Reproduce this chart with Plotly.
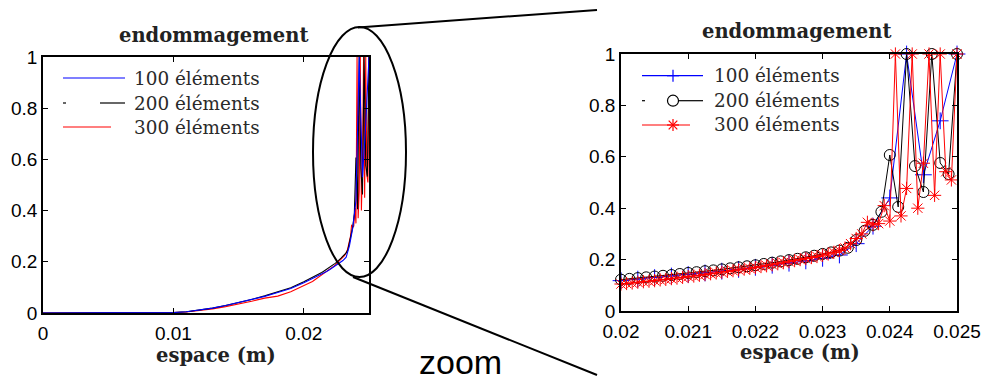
import numpy as np
import plotly.graph_objects as go

# ---------------- data ----------------
# coarse sampling of the smooth part (x < 0.02), shared node positions
x_coarse = [0.000, 0.001, 0.002, 0.003, 0.004, 0.005, 0.006, 0.007, 0.008, 0.009,
            0.010, 0.011, 0.012, 0.013, 0.014, 0.015, 0.016, 0.017, 0.018, 0.019]
y100_coarse = [0, 0, 0, 0, 0, 0, 0, 0, 0.0005, 0.001,
               0.002, 0.005, 0.011, 0.019, 0.029, 0.040, 0.052, 0.065, 0.080, 0.096]
y200_coarse = [0, 0, 0, 0, 0, 0, 0, 0, 0.0005, 0.001,
               0.002, 0.005, 0.011, 0.019, 0.029, 0.040, 0.053, 0.067, 0.082, 0.099]
y300_coarse = [0, 0, 0, 0, 0, 0, 0, 0, 0.0004, 0.001,
               0.002, 0.004, 0.009, 0.016, 0.025, 0.035, 0.046, 0.058, 0.066, 0.083]

# fine part, nodes of each mesh between 0.02 and 0.025
x100_fine = np.linspace(0.02, 0.025, 21)
y100_fine = [0.118, 0.124, 0.130, 0.136, 0.142, 0.148, 0.155, 0.162, 0.170, 0.178,
             0.186, 0.195, 0.205, 0.218, 0.262, 0.330, 0.440, 1.000, 0.530, 0.740,
             1.000]

x200_fine = np.linspace(0.02, 0.025, 41)
y200_fine = [0.122, 0.125, 0.128, 0.131, 0.134, 0.137, 0.140, 0.144, 0.148, 0.151,
             0.155, 0.158, 0.162, 0.166, 0.170, 0.174, 0.178, 0.183, 0.188, 0.193,
             0.198, 0.203, 0.209, 0.215, 0.222, 0.228, 0.235, 0.246, 0.276, 0.312,
             0.335, 0.386, 0.607, 0.405, 1.000, 0.564, 0.463, 1.000, 0.576, 0.533,
             1.000]

x300_fine = np.linspace(0.02, 0.025, 61)
y300_fine = [0.105, 0.107, 0.109, 0.112, 0.114, 0.116, 0.118, 0.121, 0.123, 0.126,
             0.128, 0.131, 0.134, 0.136, 0.139, 0.142, 0.145, 0.148, 0.151, 0.154,
             0.157, 0.160, 0.163, 0.166, 0.169, 0.173, 0.176, 0.180, 0.184, 0.188,
             0.192, 0.196, 0.200, 0.204, 0.208, 0.212, 0.217, 0.222, 0.228, 0.235,
             0.245, 0.262, 0.282, 0.300, 0.345, 0.335, 0.340, 0.410, 0.350, 1.000,
             0.370, 0.477, 1.000, 0.400, 0.575, 1.000, 0.450, 1.000, 0.542, 0.510,
             1.000]

series_names = ["100 éléments", "200 éléments", "300 éléments"]
series_colors = ["#0000ff", "#000000", "#ff0000"]
series_symbols = ["cross-thin-open", "circle-open", "asterisk-open"]

left_xticks = [0, 0.01, 0.02]
left_xlabels = ["0", "0.01", "0.02"]
right_xticks = [0.020, 0.021, 0.022, 0.023, 0.024, 0.025]
right_xlabels = ["0.02", "0.021", "0.022", "0.023", "0.024", "0.025"]
yticks = [0, 0.2, 0.4, 0.6, 0.8, 1]
ylabels = ["0", "0.2", "0.4", "0.6", "0.8", "1"]

title_text = "endommagement"
xlabel_text = "espace (m)"
zoom_text = "zoom"

# ---------------- figure ----------------
W, H = 985, 383
def fx(p):
    return p / W
def fy(p):
    return 1 - p / H

xs_full = [np.concatenate([x_coarse, x100_fine]),
           np.concatenate([x_coarse, x200_fine]),
           np.concatenate([x_coarse, x300_fine])]
ys_full = [y100_coarse + y100_fine, y200_coarse + y200_fine, y300_coarse + y300_fine]
xs_fine = [x100_fine, x200_fine, x300_fine]
ys_fine = [y100_fine, y200_fine, y300_fine]

fig = go.Figure()

# left panel: full domain, lines only (blue drawn last as it dominates the smooth part)
for i in [2, 1, 0]:
    fig.add_trace(go.Scatter(x=xs_full[i], y=ys_full[i], mode="lines",
                             line=dict(color=series_colors[i], width=1.1),
                             name=series_names[i], xaxis="x", yaxis="y",
                             showlegend=False))

# right panel: zoom, lines with markers
msize = [12, 11, 11]
for i in [0, 1, 2]:
    fig.add_trace(go.Scatter(x=xs_fine[i], y=ys_fine[i], mode="lines+markers",
                             line=dict(color=series_colors[i], width=1),
                             marker=dict(symbol=series_symbols[i], size=msize[i],
                                         color=series_colors[i],
                                         line=dict(color=series_colors[i], width=1)),
                             cliponaxis=False,
                             name=series_names[i], xaxis="x2", yaxis="y2",
                             showlegend=False))

tickfont = dict(family="Liberation Sans, Arial, sans-serif", size=19, color="black")
axis_common = dict(showline=True, mirror="ticks", linecolor="black", linewidth=1.6,
                   ticks="inside", ticklen=5, tickwidth=1, tickcolor="black",
                   tickfont=tickfont, showgrid=False, zeroline=False,
                   automargin=False)

fig.update_layout(
    width=W, height=H,
    margin=dict(l=0, r=0, t=0, b=0, pad=0, autoexpand=False),
    paper_bgcolor="white", plot_bgcolor="white",
    showlegend=False,
    xaxis=dict(domain=[fx(43), fx(369)], range=[0, 0.025], anchor="y",
               tickvals=left_xticks, ticktext=left_xlabels,
               ticklabelstandoff=2, **axis_common),
    yaxis=dict(domain=[fy(313), fy(57)], range=[0, 1], anchor="x",
               tickvals=yticks, ticktext=ylabels, **axis_common),
    xaxis2=dict(domain=[fx(621), fx(957)], range=[0.02, 0.025], anchor="y2",
                tickvals=right_xticks, ticktext=right_xlabels,
                ticklabelstandoff=2, **axis_common),
    yaxis2=dict(domain=[fy(311), fy(54)], range=[0, 1], anchor="x2",
                tickvals=yticks, ticktext=ylabels, **axis_common),
)

serif_b = dict(family="DejaVu Serif, serif", size=19.5, color="#222222")
serif = dict(family="DejaVu Serif, serif", size=18.4, color="#2a2a2a")

annotations = []
# titles and x labels
for (xc, yc, txt) in [(213, 35, title_text), (796, 32, title_text),
                      (216, 355, xlabel_text), (800, 352, xlabel_text)]:
    annotations.append(dict(x=fx(xc), y=fy(yc), xref="paper", yref="paper",
                            text="<b>%s</b>" % txt, showarrow=False, font=serif_b,
                            xanchor="center", yanchor="middle"))
annotations.append(dict(x=fx(460), y=fy(362), xref="paper", yref="paper",
                        text=zoom_text, showarrow=False,
                        font=dict(family="Liberation Sans, Arial, sans-serif",
                                  size=34, color="black"),
                        xanchor="center", yanchor="middle"))

# legends (manual, MATLAB style)
left_rows = [78, 103, 127]
right_rows = [75.7, 100.7, 125]
for i in range(3):
    annotations.append(dict(x=fx(132), y=fy(left_rows[i]), xref="paper", yref="paper",
                            text=series_names[i], showarrow=False, font=serif,
                            xanchor="left", yanchor="middle"))
    annotations.append(dict(x=fx(712), y=fy(right_rows[i]), xref="paper", yref="paper",
                            text=series_names[i], showarrow=False, font=serif,
                            xanchor="left", yanchor="middle"))

shapes = []
def seg(x0, y0, x1, y1, color, width=1.2):
    shapes.append(dict(type="line", xref="paper", yref="paper",
                       x0=fx(x0), y0=fy(y0), x1=fx(x1), y1=fy(y1),
                       line=dict(color=color, width=width), layer="above"))

# left legend keys
seg(63, left_rows[0], 125, left_rows[0], series_colors[0])
seg(63, left_rows[1], 66, left_rows[1], series_colors[1])
seg(100, left_rows[1], 125, left_rows[1], series_colors[1])
seg(63, left_rows[2], 111, left_rows[2], series_colors[2])

# right legend keys
cx = 673
seg(642, right_rows[0], 703, right_rows[0], series_colors[0])
seg(cx - 6, right_rows[0], cx + 6, right_rows[0], series_colors[0])
seg(cx, right_rows[0] - 6, cx, right_rows[0] + 6, series_colors[0])

seg(642, right_rows[1], 645, right_rows[1], series_colors[1])
shapes.append(dict(type="circle", xref="paper", yref="paper",
                   x0=fx(cx - 5.5), x1=fx(cx + 5.5),
                   y0=fy(right_rows[1] + 5.5), y1=fy(right_rows[1] - 5.5),
                   line=dict(color=series_colors[1], width=1.2), layer="above"))
seg(678.5, right_rows[1], 703, right_rows[1], series_colors[1])

seg(642, right_rows[2], 690, right_rows[2], series_colors[2])
r = right_rows[2]
seg(cx - 6, r, cx + 6, r, series_colors[2])
seg(cx, r - 6, cx, r + 6, series_colors[2])
seg(cx - 4.3, r - 4.3, cx + 4.3, r + 4.3, series_colors[2])
seg(cx - 4.3, r + 4.3, cx + 4.3, r - 4.3, series_colors[2])

# zoom ellipse and connectors
shapes.append(dict(type="circle", xref="paper", yref="paper",
                   x0=fx(313), x1=fx(406), y0=fy(277), y1=fy(27),
                   line=dict(color="black", width=2), layer="above"))
seg(358, 27.5, 597, 10, "black", 2)
seg(353, 277, 597, 375, "black", 2)

fig.update_layout(annotations=annotations, shapes=shapes)

fig.write_html("out.html",
               config={"displayModeBar": False},
               post_script="document.body.style.margin='0';document.body.style.padding='0';")
